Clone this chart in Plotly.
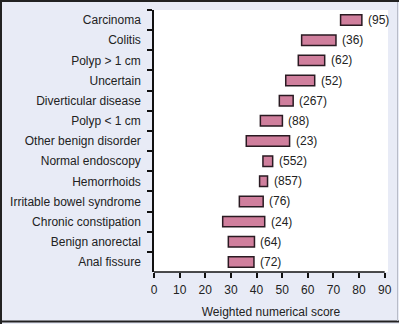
import plotly.graph_objects as go

categories = ["Carcinoma", "Colitis", "Polyp > 1 cm", "Uncertain", "Diverticular disease",
              "Polyp < 1 cm", "Other benign disorder", "Normal endoscopy", "Hemorrhoids",
              "Irritable bowel syndrome", "Chronic constipation", "Benign anorectal", "Anal fissure"]
low = [72.8, 57.6, 56.3, 51.4, 48.9, 41.5, 36.0, 42.5, 41.2, 33.3, 26.8, 29.0, 29.0]
high = [81.1, 71.0, 66.6, 62.7, 54.3, 50.1, 52.9, 46.3, 44.3, 42.6, 43.2, 39.2, 39.0]
counts = [95, 36, 62, 52, 267, 88, 23, 552, 857, 76, 24, 64, 72]
xticks = [0, 10, 20, 30, 40, 50, 60, 70, 80, 90]

W, H = 399, 324
ml, mr, mt, mb = 154, 11, 10, 52
pw, ph = W - ml - mr, H - mt - mb

fig = go.Figure()
fig.add_trace(go.Bar(
    y=categories, x=[h - l for l, h in zip(low, high)], base=low, orientation="h",
    width=0.52, marker=dict(color="#d07f9d", line=dict(color="#2a1a22", width=1.5)),
    hoverinfo="skip", showlegend=False,
))

for c, h, n in zip(categories, high, counts):
    fig.add_annotation(x=h, y=c, text=f"({n})", showarrow=False, xanchor="left",
                       xshift=4, font=dict(size=12, color="#222"))

def px_x(p):
    return (p - ml) / pw

def px_y(p):
    return (H - mb - p) / ph

# outer frame: dark left/top/bottom, light right
fig.add_shape(type="line", xref="paper", yref="paper", x0=px_x(1), x1=px_x(1), y0=px_y(0), y1=px_y(H),
              line=dict(color="#222", width=2), layer="above")
fig.add_shape(type="line", xref="paper", yref="paper", x0=px_x(0), x1=px_x(W), y0=px_y(1), y1=px_y(1),
              line=dict(color="#222", width=2), layer="above")
fig.add_shape(type="line", xref="paper", yref="paper", x0=px_x(0), x1=px_x(W), y0=px_y(H - 2.5), y1=px_y(H - 2.5),
              line=dict(color="#222", width=2), layer="above")
fig.add_shape(type="line", xref="paper", yref="paper", x0=px_x(397.5), x1=px_x(397.5), y0=px_y(2), y1=px_y(H - 3),
              line=dict(color="#b8bcc8", width=1), layer="above")
# x axis line from 0 to 90 only
fig.add_shape(type="line", xref="x", yref="paper", x0=0, x1=xticks[-1], y0=0, y1=0,
              line=dict(color="#111", width=1.5), layer="above")

fig.update_layout(
    width=W, height=H, margin=dict(l=ml, r=mr, t=mt, b=mb, autoexpand=False),
    paper_bgcolor="#e8ebf6", plot_bgcolor="#ffffff",
    font=dict(family="Liberation Sans, Arial, sans-serif", size=12, color="#222"),
    xaxis=dict(range=[0, 91.3], tickvals=xticks, ticks="outside", ticklen=5, tickwidth=1.5,
               tickcolor="#111", showline=False, ticklabelstandoff=2, automargin=False,
               showgrid=False, zeroline=False,
               title=dict(text="Weighted numerical score", standoff=11, font=dict(size=12))),
    yaxis=dict(categoryorder="array", categoryarray=categories, autorange="reversed",
               tickson="boundaries", ticks="outside", ticklen=5, tickwidth=1.5, tickcolor="#111",
               showline=True, linecolor="#111", linewidth=1.5, showgrid=False, zeroline=False,
               ticklabelstandoff=9, automargin=False),
)

fig.write_html("out.html")
